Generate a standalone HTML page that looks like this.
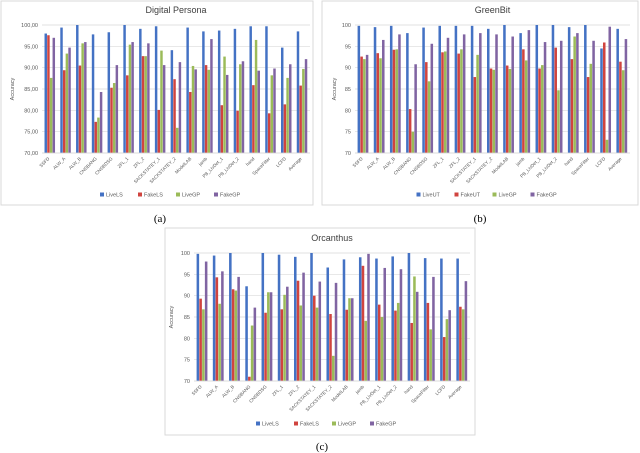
<!DOCTYPE html>
<html><head><meta charset="utf-8">
<style>
html,body{margin:0;padding:0;background:#fff;}
svg{display:block;font-family:"Liberation Sans",sans-serif;}
</style></head>
<body>
<svg id="fig" width="640" height="453" viewBox="0 0 640 453"></svg>
<script>
const categories = ["SSFD","ALW_A","ALW_B","CNSBANG","CNSBDSG","ZFL_1","ZFL_2","SACKSTATEY_1","SACKSTATEY_2","ModelLAB","jamb","PB_LivDet_1","PB_LivDet_2","hand","SpaceFilter","LCFD","Average"];
const yTicks = [70,75,80,85,90,95,100];
const yTickLabelsA = ["70,00","75,00","80,00","85,00","90,00","95,00","100,00"];
const yTickLabelsBC = ["70","75","80","85","90","95","100"];
const seriesNames = ["LiveLS","FakeLS","LiveGP","FakeGP"];
const seriesNamesB = ["LiveUT","FakeUT","LiveGP","FakeGP"];

const dpLive  = [98,99.4,100,97.8,98.3,100,99.1,99.7,94.1,99.4,98.5,98.7,99.1,99.7,99.7,94.7,98.5];
const dpFake  = [97.6,89.4,90.5,77.3,85.3,88.2,92.7,80.1,87.3,84.3,90.6,81.2,79.9,85.9,79.3,81.4,85.8];
const dpLive2 = [87.6,93.3,95.7,78.3,86.4,95.4,92.7,94,75.9,90.4,89.5,92.6,90.8,96.5,88.2,87.6,89.7];
const dpFake2 = [97,94.7,96,84.3,90.6,96,95.7,90.6,91.3,89.6,96.7,88.3,91.5,89.3,89.8,90.8,92];

const gbLive  = [99.8,99.5,99.8,98.1,99.4,99.8,99.8,99.8,99.1,100,98.1,100,100,99.5,100,94.5,99.1];
const gbFake  = [92.6,93.4,94.2,80.3,91.3,93.6,93.3,87.8,89.8,90.5,94.3,89.8,94.7,92,87.8,95.9,91.4];
const gbLive2 = [92,92.2,94.3,75,86.8,93.8,94.3,93,89.5,89.7,91.7,90.6,84.7,97.3,90.9,73.1,89.4];
const gbFake2 = [93,96.5,97.8,90.8,95.6,97,97.8,98.1,97.8,97.3,98.8,96,96.3,98.1,96.3,99.6,96.7];

const orLive  = [99.8,99.4,100,92.2,100,99.6,99.1,100,96.6,98.5,99,98.7,99.2,100,98.8,98.7,98.7];
const orFake  = [89.3,94.3,91.5,71,86,86.8,93.5,90,85.7,86.7,97,87.9,86.5,83.6,88.3,80.3,87.4];
const orLive2 = [86.8,88.1,91.2,83,90.8,90.2,87.7,87.2,75.9,89.4,84.1,85,88.3,94.5,82.1,84.5,86.8];
const orFake2 = [98,95.7,94.4,87.2,90.8,92.1,95.4,93.3,93,89.4,99.8,96.5,96.2,90.9,94.4,86.6,93.4];

const colors = ["#4472C4","#D0443F","#9BBB59","#8064A2"];
const NS = "http://www.w3.org/2000/svg";
const svg = document.getElementById("fig");
function mk(tag, attrs, parent){const e=document.createElementNS(NS,tag);for(const k in attrs)e.setAttribute(k,attrs[k]);(parent||svg).appendChild(e);return e;}

function drawChart(cfg){
  const g = mk("g",{});
  
  
  const box = mk("rect",{x:cfg.box[0],y:cfg.box[1],width:cfg.box[2],height:cfg.box[3],fill:"#fff",stroke:"#d9d9d9","stroke-width":1},g);
  
  
  const yScale = v => cfg.B - (v-70)/(30)*(cfg.B-cfg.T);
  const n = categories.length, gw = (cfg.R-cfg.L)/n, bw = gw*0.17;
  // gridlines and tick labels
  yTicks.forEach((t,i)=>{
    const y=yScale(t);
    const gl = mk("line",{x1:cfg.L,x2:cfg.R,y1:y,y2:y,stroke:"#d9d9d9","stroke-width":0.7},g);
    
    
    const tl = mk("text",{x:cfg.L-4,y:y+2,"font-size":5.5,fill:"#595959","text-anchor":"end"},g);
    tl.textContent = cfg.tickLabels[i];
    
    
  });
  const series = cfg.series;
  categories.forEach((c,i)=>{
    const x0 = cfg.L + gw*i + gw*0.16;
    series.forEach((arr,s)=>{
      const y = yScale(arr[i]);
      const r = mk("rect",{x:x0+s*bw,y:y,width:bw*0.92,height:cfg.B-y,fill:colors[s]},g);
      
      
    });
    const lx = cfg.L + gw*(i+0.5), ly = cfg.B+6;
    const lt = mk("text",{x:lx,y:ly,"font-size":4.6,fill:"#595959","text-anchor":"end",transform:`rotate(-45 ${lx} ${ly})`},g);
    lt.textContent = c;
    
    
  });
  const ax = mk("line",{x1:cfg.L,x2:cfg.R,y1:cfg.B,y2:cfg.B,stroke:"#d9d9d9","stroke-width":0.8},g);
  
  
  const title = mk("text",{x:(cfg.L+cfg.R)/2,y:cfg.T-12,"font-size":9,fill:"#404040","text-anchor":"middle"},g);
  title.textContent = cfg.title;
  
  
  const yt = mk("text",{x:cfg.yTitleX,y:(cfg.T+cfg.B)/2,"font-size":5.5,fill:"#595959","text-anchor":"middle",transform:`rotate(-90 ${cfg.yTitleX} ${(cfg.T+cfg.B)/2})`},g);
  yt.textContent = "Accuracy";
  
  
  // legend
  const lw = 38, lx0 = (cfg.L+cfg.R)/2 - lw*2;
  cfg.names.forEach((nm,s)=>{
    const x = lx0 + s*lw;
    const sw = mk("rect",{x:x,y:cfg.legendY-2.5,width:4,height:4,fill:colors[s]},g);
    
    
    const t = mk("text",{x:x+6,y:cfg.legendY+1.5,"font-size":5.5,fill:"#595959"},g);
    t.textContent = nm;
    
    
  });
  const cap = mk("text",{x:cfg.capX,y:cfg.capY,"font-size":11,fill:"#000","text-anchor":"middle","font-family":"Liberation Serif, serif"},g);
  cap.textContent = cfg.caption;
  
  
}

drawChart({name:"chart-digital-persona",title:"Digital Persona",box:[1,1,312,204],L:42,R:310,T:25,B:153,yTitleX:14,legendY:195,tickLabels:yTickLabelsA,series:[dpLive,dpFake,dpLive2,dpFake2],names:seriesNames,caption:"(a)",capX:160,capY:222});
drawChart({name:"chart-greenbit",title:"GreenBit",box:[322,1,316,204],L:355,R:630,T:25,B:153,yTitleX:336,legendY:195,tickLabels:yTickLabelsBC,series:[gbLive,gbFake,gbLive2,gbFake2],names:seriesNamesB,caption:"(b)",capX:480,capY:222});
drawChart({name:"chart-orcanthus",title:"Orcanthus",box:[165,228,310,207],L:194,R:470,T:253,B:381,yTitleX:173,legendY:424,tickLabels:yTickLabelsBC,series:[orLive,orFake,orLive2,orFake2],names:seriesNames,caption:"(c)",capX:322,capY:450});
</script>
</body></html>
